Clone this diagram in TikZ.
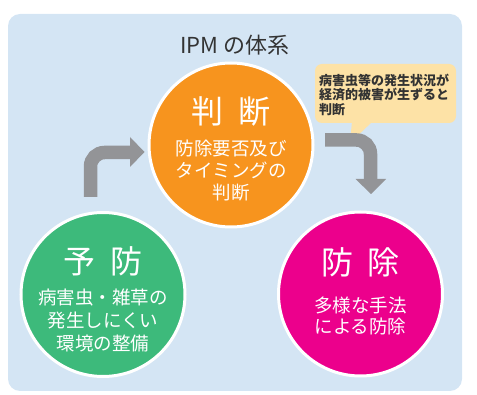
\documentclass[tikz,border=0pt]{standalone}
\usepackage{fontspec}
\newfontfamily\jp{Noto Sans CJK JP}
\usetikzlibrary{calc}
\definecolor{bgblue}{HTML}{D4E5F4}
\definecolor{arrgray}{HTML}{939497}
\definecolor{orangec}{HTML}{F7941E}
\definecolor{greenc}{HTML}{3DBA7B}
\definecolor{magc}{HTML}{EC008C}
\definecolor{callc}{HTML}{FDE2A6}
\definecolor{titlec}{HTML}{333333}
\tikzset{
  bubble/.style={circle, draw=white, line width=3pt, minimum size=164pt, inner sep=0pt},
  bigtxt/.style={text=white, font=\jp\fontsize{32}{36}\selectfont, inner sep=0pt},
  bodytxt/.style={text=white, align=center, inner sep=0pt},
  flow/.style={draw=arrgray, line width=13.5pt, rounded corners=14pt},
  head/.style={fill=arrgray, draw=none},
}
\begin{document}
\begin{tikzpicture}[x=1pt, y=-1pt]
\useasboundingbox (0,0) rectangle (477,395);
\fill[bgblue, rounded corners=12pt] (8,14) rectangle (462,391);
\node[text=titlec, font=\jp\fontsize{22}{26}\selectfont, inner sep=0pt] (title) at (235,45) {IPM の体系};
% callout
\fill[callc] (352,121) -- (350,143) -- (373,121) -- cycle;
\node[fill=callc, rounded corners=7pt, minimum width=141pt, minimum height=59pt, inner sep=0pt] (call) at (385.5,93.5) {};
\node[text=titlec, font=\jp\bfseries\fontsize{13}{14.5}\selectfont, align=left, anchor=west, inner sep=0pt] (calltxt) at (319,94.5) {病害虫等の発生状況が\\経済的被害が生ずると\\判断};
% arrows
\coordinate (a1s) at (90.5,197);
\coordinate (a1e) at (131,152.5);
\draw[flow] (a1s) |- (a1e);
\fill[head] (130,137) -- (144.5,152) -- (130,167) -- cycle;
\coordinate (a2s) at (325,140);
\coordinate (a2e) at (370.5,180);
\draw[flow] (a2s) -| (a2e);
\fill[head] (355.5,179) -- (386,179) -- (371,194) -- cycle;
% circles
\node[bubble, fill=orangec] (judge) at (231,145) {};
\node[bubble, fill=greenc] (prev) at (103,294.5) {};
\node[bubble, fill=magc] (ctrl) at (360.5,294) {};
\node[bigtxt] (judget) at (231,112) {判\hspace{15pt}断};
\node[bodytxt, font=\jp\fontsize{18.5}{22}\selectfont] (judgeb) at (231,171) {防除要否及び\\タイミングの\\判断};
\node[bigtxt] (prevt) at (103,261) {予\hspace{15pt}防};
\node[bodytxt, font=\jp\fontsize{18.5}{23}\selectfont] (prevb) at (103,320) {病害虫・雑草の\\発生しにくい\\環境の整備};
\node[bigtxt] (ctrlt) at (360.5,262) {防\hspace{15pt}除};
\node[bodytxt, font=\jp\fontsize{18.5}{21}\selectfont] (ctrlb) at (360.5,316) {多様な手法\\による防除};
\end{tikzpicture}
\end{document}
